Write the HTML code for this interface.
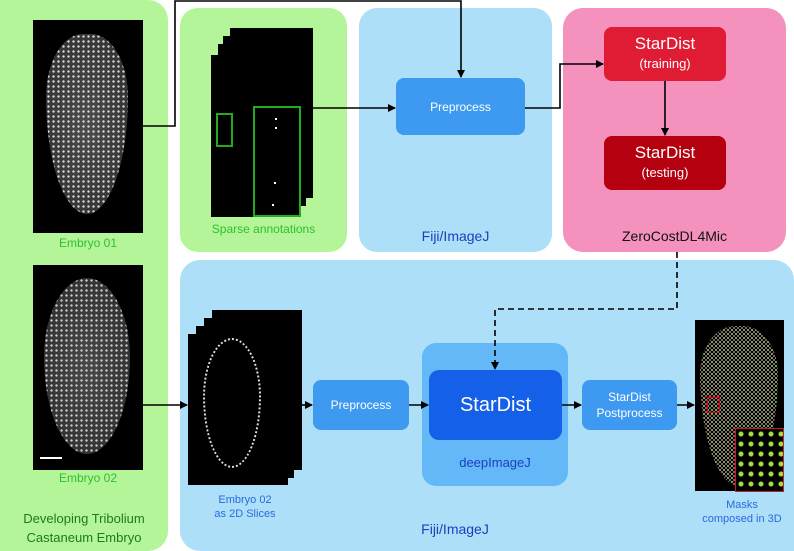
<!DOCTYPE html>
<html><head><style>
body{margin:0;width:794px;height:551px;position:relative;background:#fff;font-family:"Liberation Sans",sans-serif;overflow:hidden}
div{position:absolute;box-sizing:border-box}
.t{text-align:center;white-space:nowrap}
.dots{background-color:#000;}
.emb{border-radius:50%;background:radial-gradient(circle,#eee 0.9px,transparent 1.5px) 0 0/5px 5px,radial-gradient(ellipse,#555,#333);}
.box{color:#fff;display:flex;align-items:center;justify-content:center;text-align:center;border-radius:8px}
</style></head><body>
<!-- left green -->
<div style="left:0;top:0;width:168px;height:551px;background:#b5f59a;border-radius:0 20px 20px 0"></div>
<div class="dots" style="left:33px;top:20px;width:110px;height:213px"></div>
<div class="emb" style="left:46px;top:34px;width:82px;height:180px;border-radius:45% 45% 50% 50%/35% 35% 65% 65%;opacity:.9"></div>
<div class="t" style="left:33px;top:236px;width:110px;font-size:12px;color:#2ec02e">Embryo 01</div>
<div class="dots" style="left:33px;top:265px;width:110px;height:205px"></div>
<div class="emb" style="left:44px;top:278px;width:86px;height:176px;border-radius:50%/45% 45% 55% 55%;opacity:.85"></div>
<div style="left:40px;top:457px;width:22px;height:2px;background:#fff"></div>
<div class="t" style="left:33px;top:471px;width:110px;font-size:12px;color:#2ec02e">Embryo 02</div>
<div class="t" style="left:0;top:509px;width:168px;font-size:13px;line-height:19px;color:#1e7a1e">Developing Tribolium<br>Castaneum Embryo</div>
<!-- sparse -->
<div style="left:180px;top:8px;width:167px;height:244px;background:#b5f59a;border-radius:18px"></div>
<div class="dots" style="left:230px;top:28px;width:83px;height:170px"></div>
<div class="dots" style="left:223px;top:36px;width:83px;height:170px"></div>
<div class="dots" style="left:218px;top:44px;width:83px;height:170px"></div>
<div class="dots" style="left:211px;top:55px;width:90px;height:162px"></div>
<div style="left:216px;top:113px;width:17px;height:34px;border:2px solid #22aa22"></div>
<div style="left:253px;top:106px;width:48px;height:111px;border:2px solid #22aa22"></div>
<div style="left:275px;top:118px;width:2px;height:2px;background:#fff"></div>
<div style="left:275px;top:127px;width:2px;height:2px;background:#fff"></div>
<div style="left:274px;top:182px;width:2px;height:2px;background:#fff"></div>
<div style="left:272px;top:204px;width:2px;height:2px;background:#fff"></div>
<div class="t" style="left:180px;top:222px;width:167px;font-size:12px;color:#2ec02e">Sparse annotations</div>
<!-- fiji top -->
<div style="left:359px;top:8px;width:193px;height:244px;background:#ade0f8;border-radius:18px"></div>
<div class="box" style="left:396px;top:78px;width:129px;height:57px;background:#3d9af0;font-size:12px">Preprocess</div>
<div class="t" style="left:359px;top:228px;width:193px;font-size:14px;color:#1a3fbf">Fiji/ImageJ</div>
<!-- zerocost -->
<div style="left:563px;top:8px;width:223px;height:244px;background:#f492bd;border-radius:20px"></div>
<div class="box" style="left:604px;top:27px;width:122px;height:54px;background:#e01c34;font-size:17px;line-height:20px;flex-direction:column">StarDist<span style="font-size:13px">(training)</span></div>
<div class="box" style="left:604px;top:136px;width:122px;height:54px;background:#b50010;font-size:17px;line-height:20px;flex-direction:column">StarDist<span style="font-size:13px">(testing)</span></div>
<div class="t" style="left:563px;top:228px;width:223px;font-size:14px;color:#111">ZeroCostDL4Mic</div>
<!-- bottom -->
<div style="left:180px;top:260px;width:614px;height:291px;background:#ade0f8;border-radius:20px 20px 0 20px"></div>
<div class="dots" style="left:212px;top:310px;width:90px;height:160px"></div>
<div class="dots" style="left:204px;top:318px;width:90px;height:160px"></div>
<div class="dots" style="left:196px;top:326px;width:90px;height:155px"></div>
<div class="dots" style="left:188px;top:334px;width:100px;height:151px"></div>
<div style="left:203px;top:338px;width:58px;height:130px;border:2px dotted #ddd;border-radius:50%/45% 45% 55% 55%"></div>
<div class="t" style="left:180px;top:493px;width:130px;font-size:11px;line-height:14px;color:#2a6ae0">Embryo 02<br>as 2D Slices</div>
<div class="box" style="left:313px;top:380px;width:96px;height:50px;background:#3d9af0;font-size:12px">Preprocess</div>
<div style="left:422px;top:343px;width:146px;height:143px;background:#64b8f8;border-radius:14px"></div>
<div class="box" style="left:429px;top:370px;width:133px;height:70px;background:#1560e8;font-size:20px;border-radius:10px">StarDist</div>
<div class="t" style="left:422px;top:455px;width:146px;font-size:13px;color:#1a3fbf">deepImageJ</div>
<div class="box" style="left:582px;top:380px;width:95px;height:50px;background:#3d9af0;font-size:12px;line-height:16px">StarDist<br>Postprocess</div>
<div class="dots" style="left:695px;top:320px;width:89px;height:171px"></div>
<div style="left:700px;top:326px;width:78px;height:160px;border-radius:45% 45% 50% 50%/30% 30% 70% 70%;background:radial-gradient(circle,#e040a0 0.8px,transparent 1.3px) 0 0/4px 4px,radial-gradient(circle,#40e040 0.8px,transparent 1.3px) 2px 2px/4px 4px;"></div>
<div style="left:707px;top:397px;width:13px;height:16px;border:1px solid #d00"></div>
<div style="left:735px;top:428px;width:49px;height:64px;background:#000 radial-gradient(circle,#a0e040 2px,transparent 3px) 0 0/10px 10px;border:1.5px solid #c02020"></div>
<div class="t" style="left:690px;top:498px;width:104px;font-size:11px;line-height:14px;color:#2a6ae0">Masks<br>composed in 3D</div>
<div class="t" style="left:380px;top:521px;width:150px;font-size:14px;color:#1a3fbf">Fiji/ImageJ</div>
<!-- connectors -->
<svg width="794" height="551" style="position:absolute;left:0;top:0">
<defs><marker id="a" markerWidth="8" markerHeight="8" refX="7" refY="4" orient="auto" markerUnits="userSpaceOnUse"><path d="M0,0 L8,4 L0,8z" fill="#000"/></marker></defs>
<g stroke="#000" stroke-width="1.6" fill="none">
<path d="M143,126 H175 V1 H461 V77" marker-end="url(#a)"/>
<path d="M313,108 H395" marker-end="url(#a)"/>
<path d="M525,108 H560 V64 H603" marker-end="url(#a)"/>
<path d="M665,81 V135" marker-end="url(#a)"/>
<path d="M677,252 V309 H495 V369" stroke-dasharray="6,4" marker-end="url(#a)"/>
<path d="M143,405 H187" marker-end="url(#a)"/>
<path d="M302,405 H312" marker-end="url(#a)"/>
<path d="M409,405 H428" marker-end="url(#a)"/>
<path d="M562,405 H581" marker-end="url(#a)"/>
<path d="M677,405 H694" marker-end="url(#a)"/>
</g></svg>
</body></html>
